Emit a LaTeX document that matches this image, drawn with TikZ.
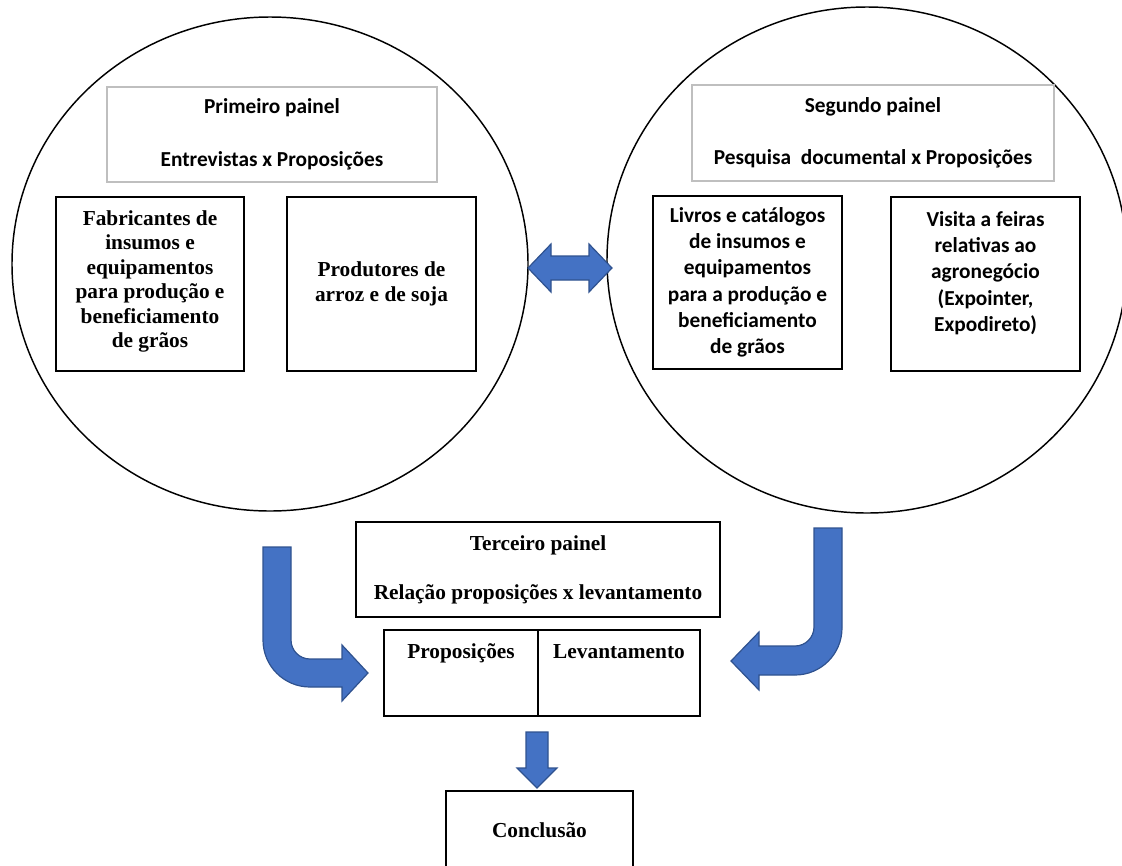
\documentclass[tikz,border=0pt]{standalone}
\usepackage{fontspec}
\usetikzlibrary{shapes.geometric}
\newfontfamily\timesfnt{Liberation Serif}
\newfontfamily\carlitofnt{Carlito}
\definecolor{arrowfill}{HTML}{4472C4}
\definecolor{arrowline}{HTML}{2F528F}
\definecolor{headline}{HTML}{BFBFBF}
\tikzset{
  tnr/.style={font=\timesfnt\bfseries\fontsize{16}{18.3}\selectfont, align=center, inner sep=0},
  cal/.style={font=\carlitofnt\bfseries\fontsize{16}{19.7}\selectfont, align=center, inner sep=0},
  panel/.style={draw=black, line width=1.1pt, ellipse, inner sep=0},
  heading/.style={draw=headline, line width=1.2pt, inner sep=0},
  item/.style={draw=black, line width=1.5pt, inner sep=0},
  sized/.style 2 args={minimum width=#1*0.75pt, minimum height=#2*0.75pt},
  blockarrow/.style={fill=arrowfill, draw=arrowline, line width=0.9pt, line join=miter},
}
\begin{document}
\begin{tikzpicture}[x=0.75pt, y=-0.75pt]
\useasboundingbox (0,0) rectangle (1122,865);
\clip (0,0) rectangle (1122,865);

% the two research panels
\node[panel, sized={516}{494}] (p1) at (270,264) {};
\node[panel, sized={520}{506}] (p2) at (867,260) {};

% first panel
\node[heading, cal, sized={330}{95}] (h1) at (272,134.5)
  {Primeiro painel\\[19.7pt]Entrevistas x Proposições};
\node[item, sized={188}{174}] (fab) at (150,284) {};
\node[tnr, anchor=north] (fabt) at (150,210.5)
  {Fabricantes de\\insumos e\\equipamentos\\para produção e\\beneficiamento\\de grãos};
\node[item, tnr, sized={189}{174}] (prod) at (381.5,284)
  {Produtores de\\arroz e de soja};

% second panel
\node[heading, cal, sized={362}{96}] (h2) at (873,133)
  {Segundo painel\\[19.7pt]Pesquisa~ documental x Proposições};
\node[item, sized={189}{173}] (liv) at (747.5,282.5) {};
\node[cal, anchor=north] (livt) at (747.5,207)
  {Livros e catálogos\\de insumos e\\equipamentos\\para a produção e\\beneficiamento\\de grãos};
\node[item, sized={189}{174}] (vis) at (985.5,284) {};
\node[cal, anchor=north] (vist) at (985.5,211)
  {Visita a feiras\\relativas ao\\agronegócio\\(Expointer,\\Expodireto)};

% third panel
\node[item, tnr, sized={364}{95}] (p3) at (538,569.5)
  {Terceiro painel\\[18.3pt]Relação proposições x levantamento};
\node[item, sized={154}{86}] (prop) at (461,673) {};
\node[item, sized={162}{86}] (lev) at (619,673) {};
\node[tnr, anchor=base] (propt) at (461,658) {Proposições};
\node[tnr, anchor=base] (levt) at (619,658) {Levantamento};

% conclusion
\node[item, sized={187}{79}] (conc) at (539.5,830.5) {};
\node[tnr, anchor=base] (conct) at (539.5,837) {Conclusão};

% double arrow between the panels
\draw[blockarrow] (528,268) -- (551,244) -- (551,256) -- (589,256) -- (589,244)
  -- (612,268) -- (589,292) -- (589,280) -- (551,280) -- (551,292) -- cycle;

% bent arrow from the first panel
\draw[blockarrow] (291,547) -- (263,547) -- (263,640)
  arc[start angle=180, end angle=90, radius=47] -- (342,687) -- (342,701)
  -- (368,673) -- (342,645) -- (342,659) -- (310,659)
  arc[start angle=90, end angle=180, radius=19] -- cycle;

% bent arrow from the second panel
\draw[blockarrow] (814,528) -- (842,528) -- (842,628)
  arc[start angle=0, end angle=90, radius=47] -- (759,675) -- (759,690)
  -- (731,661) -- (759,632) -- (759,646) -- (795,646)
  arc[start angle=90, end angle=0, radius=19] -- cycle;

% arrow down to the conclusion
\draw[blockarrow] (526,732) -- (548,732) -- (548,768) -- (557,768) -- (537,788)
  -- (517,768) -- (526,768) -- cycle;
\end{tikzpicture}
\end{document}
